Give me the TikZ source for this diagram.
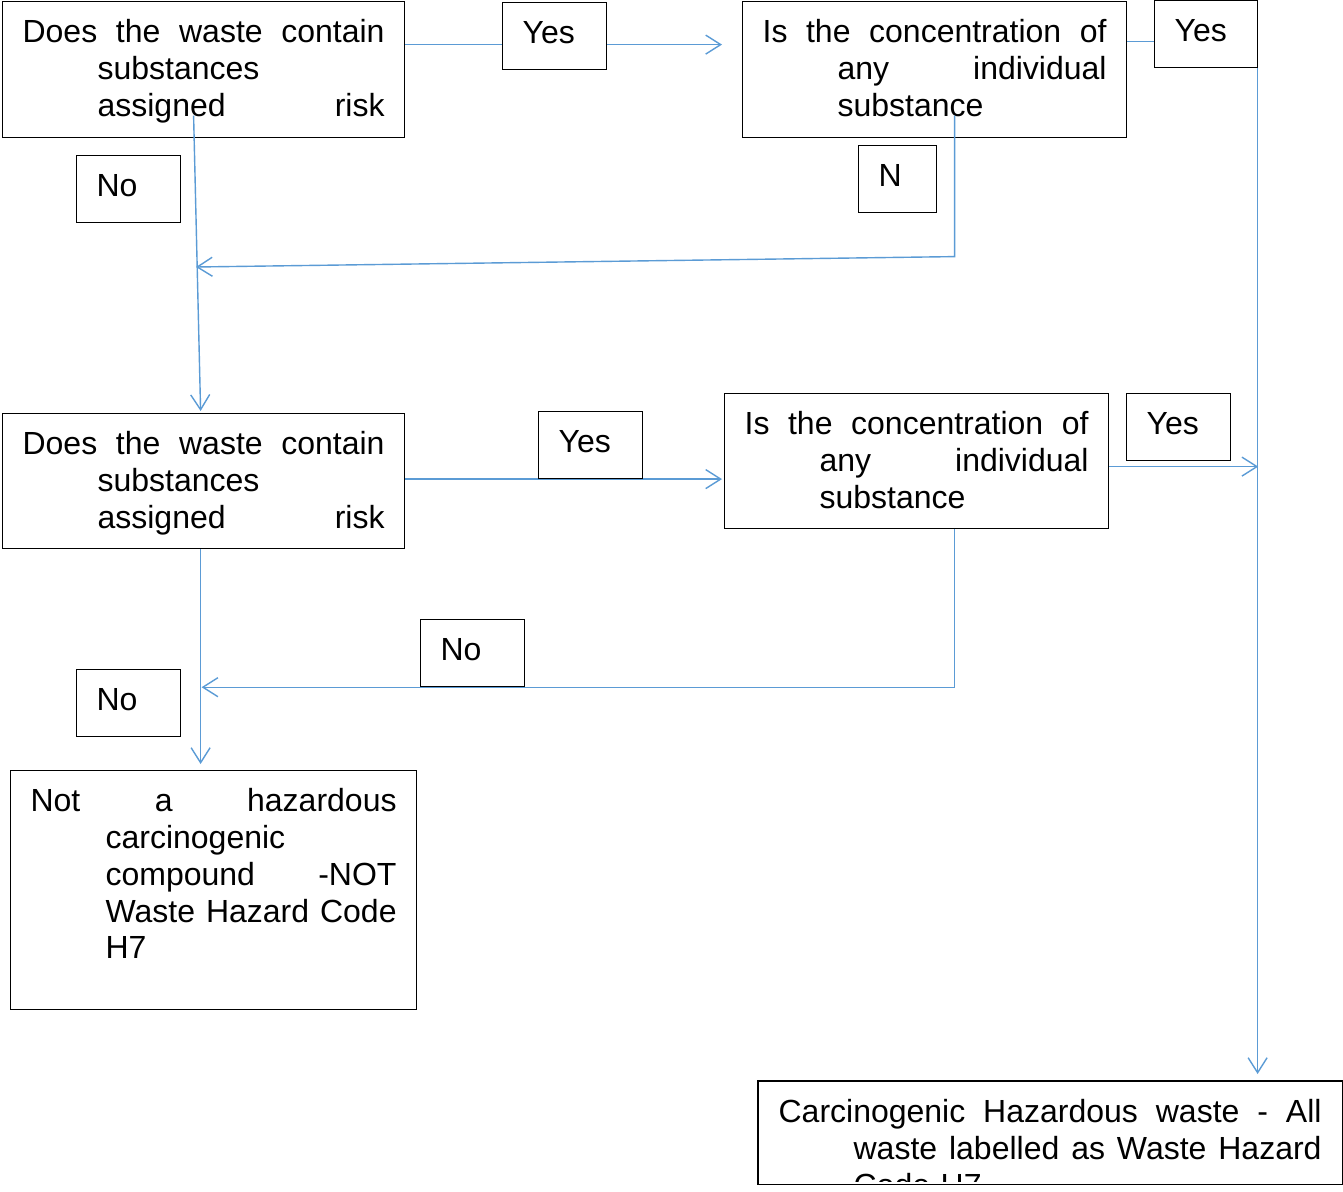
\documentclass[tikz,border=0pt]{standalone}
\usepackage{fontspec}
\setmainfont{Liberation Sans}
\usetikzlibrary{arrows.meta,calc}
\definecolor{linkblue}{RGB}{91,155,213}
\newcommand{\jline}[2]{\makebox[#1][l]{#2}}
\newcommand{\boxfont}{\fontsize{32pt}{36.8pt}\selectfont}

\begin{document}
\begin{tikzpicture}[x=1pt,y=-1pt]
\tikzstyle{quest}=[rectangle,draw=black,line width=1.2pt,anchor=north west,inner xsep=20pt,inner ysep=0pt,text height=41pt,align=left,font=\boxfont]
\tikzstyle{answ}=[quest,fill=white,text width=64pt,text depth=26pt]
\tikzstyle{flow}=[draw=linkblue,line width=1.4pt,-{Straight Barb[length=15pt,width=19pt]}]
\useasboundingbox (0,0) rectangle (1343,1191);
% question boxes
\node [quest,text width=362pt,text depth=95pt] (a1) at (2,1)
  {\jline{362pt}{Does\hfill the\hfill waste\hfill contain}\\
   \hspace*{75pt}substances\\
   \hspace*{75pt}\jline{287pt}{assigned\hfill risk}};
\node [quest,text width=344pt,text depth=95pt] (b1) at (742,1)
  {\jline{344pt}{Is\hfill the\hfill concentration\hfill of}\\
   \hspace*{75pt}\jline{269pt}{any\hfill individual}\\
   \hspace*{75pt}substance};
\node [quest,text width=362pt,text depth=94pt] (a2) at (2,413)
  {\jline{362pt}{Does\hfill the\hfill waste\hfill contain}\\
   \hspace*{75pt}substances\\
   \hspace*{75pt}\jline{287pt}{assigned\hfill risk}};
\node [quest,text width=344pt,text depth=94pt] (b2) at (724,393)
  {\jline{344pt}{Is\hfill the\hfill concentration\hfill of}\\
   \hspace*{75pt}\jline{269pt}{any\hfill individual}\\
   \hspace*{75pt}substance};
\node [quest,text width=366pt,text depth=198pt] (c) at (10,770)
  {\jline{366pt}{Not\hfill a\hfill hazardous}\\
   \hspace*{75pt}carcinogenic\\
   \hspace*{75pt}\jline{291pt}{compound\hfill -NOT}\\
   \hspace*{75pt}\jline{291pt}{Waste\hfill Hazard\hfill Code}\\
   \hspace*{75pt}H7};
\begin{scope}
\clip (757,1080) rectangle (1343,1181);
\node [quest,draw=none,text width=543pt,text depth=61pt] (d) at (758,1081)
  {\jline{543pt}{Carcinogenic\hfill Hazardous\hfill waste\hfill -\hfill All}\\
   \hspace*{75pt}\jline{468pt}{waste\hfill labelled\hfill as\hfill Waste\hfill Hazard}\\
   \hspace*{75pt}Code H7};
\end{scope}
\draw [line width=1.2pt] (d.north west) rectangle (d.south east);
% connectors
\coordinate (j1) at (196,267);
\draw [flow] ([yshift=25pt]a1.east) -- ([xshift=-20pt,yshift=25pt]b1.west);
\draw [flow] ([yshift=28pt]b1.east) -| ([xshift=207.5pt,yshift=7pt]d.north);
\draw [flow] ([xshift=-10pt,yshift=-46pt]a1.center) -- ([xshift=-3pt,yshift=2pt]a2.north);
\draw [flow] ([xshift=20pt,yshift=-46pt]b1.center) -- ++(0,141) -- (j1);
\draw [flow] ([yshift=2pt]a2.east) -- ([xshift=-2pt,yshift=-18pt]b2.west);
\draw [flow] ([yshift=-5.5pt]b2.east) -- ++(149,0);
\draw [flow] ([xshift=38pt]b2.south) |- ([xshift=-2pt,yshift=-138pt]a2.south);
\draw [flow] ([xshift=-3pt]a2.south) -- ([xshift=-13pt,yshift=6pt]c.north);
% answer boxes
\node [answ] (y1) at (502,2) {Yes};
\node [answ,text width=63pt] (y2) at (1154,0) {Yes};
\node [answ] (n1) at (76,155) {No};
\node [answ,text width=38pt] (n2) at (858,145) {N};
\node [answ] (y3) at (538,411) {Yes};
\node [answ] (y4) at (1126,393) {Yes};
\node [answ] (n3) at (420,619) {No};
\node [answ] (n4) at (76,669) {No};
\end{tikzpicture}
\end{document}
